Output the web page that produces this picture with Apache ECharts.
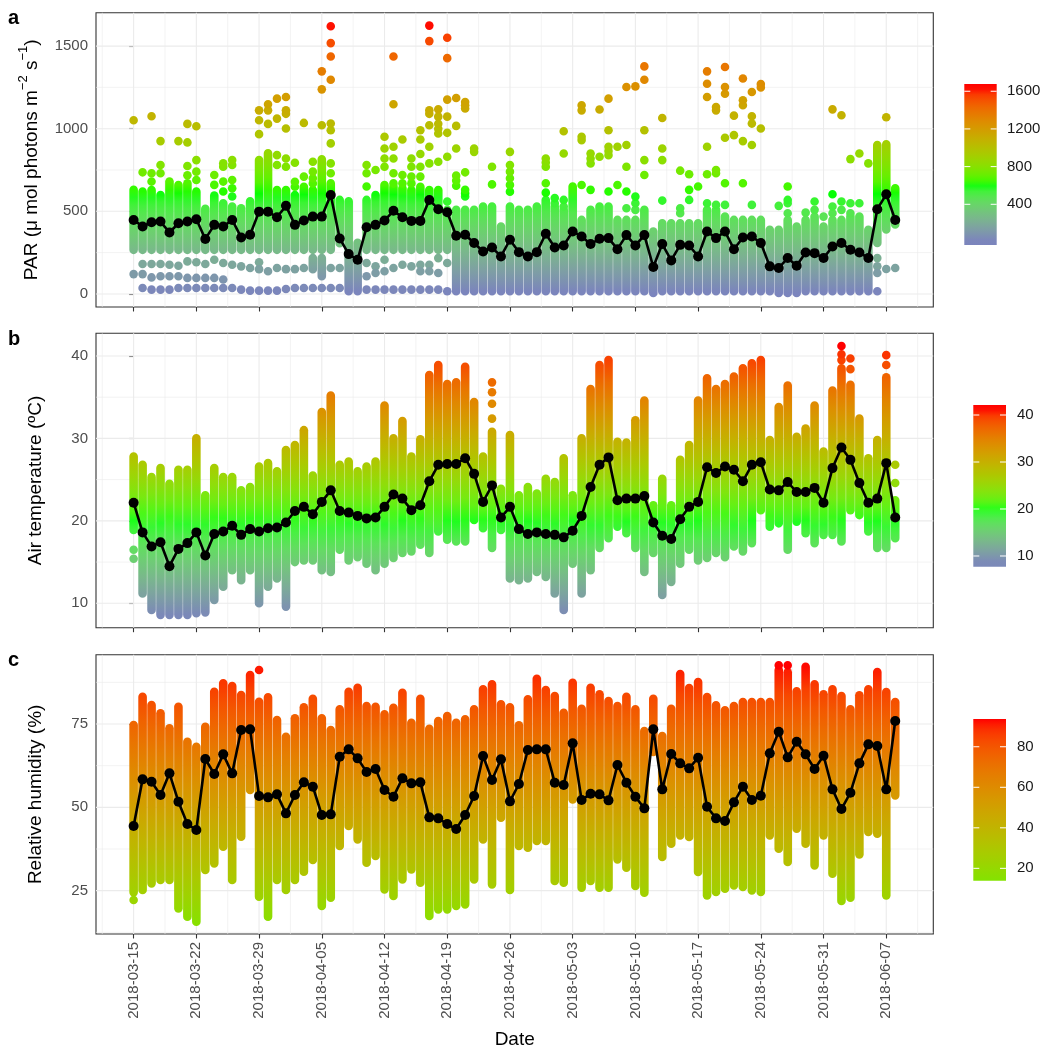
<!DOCTYPE html>
<html>
<head>
<meta charset="utf-8">
<title>PAR, air temperature and relative humidity</title>
<script src="https://cdn.jsdelivr.net/npm/echarts@6/dist/echarts.min.js"></script>
<style>
  html, body { margin: 0; padding: 0; background: #fff; }
  #chart { width: 1046px; height: 1050px; }
</style>
</head>
<body>
<div id="chart"></div>
<script>
// x = day index, 0 = 2018-03-15 ... 85 = 2018-06-08
const tickDays = [0, 7, 14, 21, 28, 35, 42, 49, 56, 63, 70, 77, 84];
const tickLabels = ['2018-03-15', '2018-03-22', '2018-03-29', '2018-04-05', '2018-04-12', '2018-04-19',
  '2018-04-26', '2018-05-03', '2018-05-10', '2018-05-17', '2018-05-24', '2018-05-31', '2018-06-07'];

const parTicks = [0, 500, 1000, 1500];
const tempTicks = [10, 20, 30, 40];
const rhTicks = [25, 50, 75];
const parLegend = [400, 800, 1200, 1600];
const tempLegend = [10, 20, 30, 40];
const rhLegend = [20, 40, 60, 80];

// daily means (black line)
const parMean = [448, 408, 434, 438, 372, 428, 438, 452, 332, 418,
  408, 448, 342, 358, 498, 498, 464, 533, 418, 444,
  468, 468, 599, 336, 241, 207, 404, 418, 444, 503,
  464, 442, 442, 569, 513, 494, 352, 358, 308, 257,
  281, 227, 328, 253, 227, 253, 364, 281, 293, 378,
  348, 302, 334, 338, 271, 356, 293, 356, 163, 302,
  203, 297, 293, 227, 378, 338, 378, 271, 342, 348,
  308, 167, 157, 217, 171, 251, 247, 217, 287, 308,
  267, 251, 217, 513, 603, 448];

const tempMean = [22.2, 18.6, 16.9, 17.4, 14.5, 16.6, 17.3, 18.6, 15.8, 18.4,
  18.7, 19.4, 18.3, 19.0, 18.7, 19.1, 19.2, 19.8, 21.2, 21.7,
  20.8, 22.3, 23.7, 21.2, 21.0, 20.6, 20.3, 20.4, 21.7, 23.2,
  22.7, 21.3, 21.9, 24.8, 26.8, 26.9, 26.9, 27.6, 25.7, 22.3,
  24.3, 20.4, 21.7, 19.0, 18.4, 18.6, 18.4, 18.3, 18.0, 18.8,
  20.6, 24.1, 26.8, 27.7, 22.5, 22.7, 22.7, 23.0, 19.8, 18.2,
  17.8, 20.2, 21.7, 22.3, 26.5, 25.8, 26.6, 26.2, 24.8, 26.8,
  27.1, 23.8, 23.7, 24.7, 23.5, 23.5, 24.0, 22.2, 26.4, 28.9,
  27.4, 24.6, 22.2, 22.7, 27.0, 20.4];

const rhMean = [44.4, 58.4, 57.7, 53.7, 60.2, 51.7, 45.0, 43.2, 64.5, 60.0,
  65.9, 60.2, 73.2, 73.4, 53.4, 53.0, 53.9, 48.2, 53.7, 57.5,
  56.2, 47.7, 47.9, 65.2, 67.4, 64.7, 60.6, 61.5, 55.2, 53.2,
  58.7, 57.2, 57.5, 47.0, 46.7, 45.0, 43.5, 47.7, 53.4, 65.4,
  58.2, 64.4, 51.8, 57.0, 67.2, 67.4, 67.4, 57.4, 56.7, 69.2,
  52.2, 54.1, 53.9, 52.1, 62.7, 57.4, 53.2, 49.7, 73.4, 55.4,
  66.0, 63.2, 61.7, 64.9, 50.2, 46.7, 45.9, 51.5, 56.2, 52.2,
  53.5, 66.2, 72.7, 65.0, 69.7, 65.9, 61.5, 65.5, 55.4, 49.5,
  54.4, 63.2, 68.9, 68.4, 55.4, 75.9];

// readings per day: [lo, hi] = a dense run of readings, a number = a single reading
const parCols = [
  [[267, 630], 1051, 120],
  [[267, 620], 736, 181, 120, 36],
  [[267, 629], 680, 730, 1075, 181, 100, 26],
  [[267, 599], 730, 780, 925, 181, 107, 26],
  [[267, 680], 177, 107, 26],
  [[267, 659], 925, 171, 107, 36],
  [[267, 669], 718, 774, 917, 1029, 197, 97, 36],
  [[267, 619], 690, 740, 810, 1015, 192, 97, 36],
  [[267, 515], 181, 97, 36],
  [[267, 595], 660, 720, 207, 97, 36],
  [[267, 549], 620, 680, 770, 790, 187, 87, 36],
  [[267, 529], 590, 640, 690, 780, 810, 177, 36],
  [[267, 519], 167, 26],
  [[267, 560], 157, 20],
  [[267, 810], 967, 1051, 1111, 192, 150, 20],
  [[267, 851], 1029, 1111, 1148, 137, 20],
  [[267, 629], 780, 840, 1061, 1182, 157, 20],
  [[267, 629], 770, 820, 1001, 1090, 1111, 1192, 150, 30],
  [[267, 599], 649, 679, 794, 150, 36],
  [[267, 649], 710, 1035, 157, 36],
  [[267, 629], 669, 700, 740, 800, [150, 217], 36],
  [[267, 815], 1021, 1238, 1347, [107, 217], 36],
  [[267, 669], 730, 790, 911, 991, 1031, 1296, 1437, 1518, 1620, 157, 36],
  [[307, 569], 157, 36],
  [[16, 560]],
  [[16, 310]],
  [[267, 569], 650, 730, 780, 187, 107, 26],
  [[267, 599], 750, 167, 127, 26],
  [[267, 659], 770, 820, 880, 951, 207, 137, 26],
  [[267, 649], 669, 730, 820, 891, 1148, 1437, 157, 26],
  [[267, 639], 669, 720, 935, 177, 26],
  [[267, 629], 669, 710, 770, 820, 167, 26],
  [[267, 649], 710, 770, 847, 935, 991, 177, 137, 26],
  [[267, 629], 790, 891, 1021, 1090, 1111, 1530, 1624, 177, 137, 26],
  [[267, 629], 800, 971, 1000, 1030, 1073, 1117, 217, 127, 26],
  [[267, 509], 559, 830, 975, 1073, 1176, 1427, 1550, 187, 16],
  [[16, 509], 655, 686, 716, 880, 1017, 1186],
  [[16, 509], 590, 610, 630, 736, 1122, 1142, 1162],
  [[16, 509], 860, 880],
  [[16, 529]],
  [[16, 529], 663, 770],
  [[16, 408]],
  [[16, 529], 619, 660, 700, 740, 780, 860],
  [[16, 509]],
  [[16, 509]],
  [[16, 529]],
  [[16, 569], 613, 670, 770, 795, 820],
  [[16, 529], 549, 580],
  [[16, 509], 529, 569, 850, 985],
  [[16, 650]],
  [[16, 448], 659, 931, 951, 1111, 1142],
  [[16, 509], 630, 790, 820, 850],
  [[16, 529], 830, 1116],
  [[16, 529], 620, 840, 865, 891, 991, 1182],
  [[16, 448], 659, 891],
  [[16, 448], 519, 620, 770, 901, 1252],
  [[16, 448], 509, 549, 589, 1256],
  [[16, 509], 720, 810, 991, 1296, 1377],
  [[6, 378]],
  [[16, 428], 565, 810, 880, 1065],
  [[16, 428]],
  [[16, 428], 489, 519, 746],
  [[16, 428], 569, 630, 724],
  [[16, 428], 650],
  [[16, 509], 549, 724, 891, 1192, 1272, 1347],
  [[16, 509], 539, 730, 750, 1111, 1131],
  [[16, 468], 539, 670, 945, 1212, 1252, 1373],
  [[16, 448], 961, 1079],
  [[16, 448], 670, 925, 1142, 1172, 1304],
  [[16, 448], 539, 901, 1031, 1075, 1222],
  [[16, 448], 1001, 1250, 1270],
  [[16, 388]],
  [[6, 388], 533],
  [[6, 448], 488, 549, 569, 650],
  [[6, 408]],
  [[16, 448], 492],
  [[16, 468], 509, 559],
  [[16, 408], 468],
  [[16, 448], 488, 529, 603, 1117],
  [[16, 448], 509, 559, 1081],
  [[16, 468], 488, 549, 816],
  [[16, 468], 549, 850],
  [[16, 388], 790],
  [[308, 901], 217, 167, 127, 16],
  [[390, 905], 1069, 151],
  [[420, 640], 157]
];

const tempCols = [
  [[18.9, 27.8], 16.5, 15.4], [[11.2, 26.8]], [[9.2, 25.3]], [[8.6, 26.4]], [[8.6, 24.5]],
  [[8.6, 26.2]], [[8.6, 26.2]], [[8.8, 30.0]], [[8.9, 23.1]], [[10.4, 26.4]],
  [[12.0, 25.3]], [[14.0, 25.3]], [[12.8, 23.7]], [[14.0, 24.1]], [[10.0, 26.6]],
  [[12.0, 27.0]], [[13.0, 26.0]], [[9.6, 28.6]], [[15.0, 29.2]], [[15.2, 31.0]],
  [[15.2, 25.5]], [[14.0, 33.2]], [[13.8, 35.2]], [[16.5, 26.8]], [[15.2, 27.2]],
  [[15.6, 26.0]], [[14.8, 26.6]], [[14.0, 27.2]], [[14.8, 34.0]], [[15.5, 30.0]],
  [[16.1, 32.1]], [[16.3, 27.8]], [[17.1, 29.9]], [[16.1, 37.7]], [[18.7, 38.9]],
  [[17.7, 36.6]], [[17.5, 36.8]], [[17.5, 38.7]], [[20.1, 34.4]], [[19.1, 27.8]],
  [[16.7, 30.8], 32.4, 34.2, 35.6, 36.8], [[18.9, 23.9]], [[13.0, 30.4]], [[12.8, 23.1]], [[13.0, 24.1]],
  [[13.8, 23.3]], [[13.2, 25.1]], [[11.2, 24.7]], [[9.2, 27.6]], [[14.8, 23.1]],
  [[11.2, 30.0]], [[14.0, 36.0]], [[16.7, 38.9]], [[17.9, 39.5]], [[19.3, 29.6]],
  [[18.5, 29.5]], [[16.7, 32.2]], [[13.8, 34.6]], [[16.1, 21.9]], [[11.0, 25.1]],
  [[12.6, 21.9]], [[14.8, 27.4]], [[16.5, 29.2]], [[15.2, 34.6]], [[15.5, 37.3]],
  [[16.1, 36.0]], [[15.6, 36.6]], [[16.9, 37.5]], [[16.3, 38.5]], [[17.3, 39.1]],
  [[21.3, 39.5]], [[19.3, 29.8]], [[19.7, 33.8]], [[16.5, 36.4]], [[19.9, 30.2]],
  [[18.5, 31.2]], [[17.3, 34.0]], [[18.3, 28.4]], [[18.3, 35.8]], [[17.5, 38.5], 39.5, 40.2, 41.2],
  [[21.3, 36.5], 38.4, 39.7], [[20.7, 32.4]], [[18.7, 27.6]], [[16.7, 29.8]], [[16.7, 37.4], 38.9, 40.1],
  [[17.9, 22.5], 24.6, 26.8]
];

const rhCols = [
  [[24.5, 74.7], 22.2], [[25.2, 83.2]], [[27.2, 80.7]], [[28.2, 78.2]], [[28.2, 73.7]],
  [[19.7, 80.2]], [[17.2, 69.7]], [[15.7, 68.2]], [[31.2, 74.2]], [[33.2, 84.7]],
  [[38.2, 87.2]], [[28.2, 86.4]], [[41.2, 83.7]], [[55.2, 89.7]], [[23.2, 81.7], 91.2],
  [[17.2, 83.0]], [[28.2, 76.2]], [[25.2, 71.2]], [[28.2, 76.7]], [[30.7, 80.0]],
  [[34.2, 82.6]], [[20.4, 76.7]], [[22.9, 73.2]], [[38.4, 79.4]], [[44.4, 84.7]],
  [[40.4, 85.9]], [[33.4, 80.4]], [[35.4, 80.2]], [[25.4, 77.9]], [[23.4, 79.9]],
  [[28.4, 84.4]], [[31.4, 75.4]], [[27.4, 82.6]], [[17.4, 73.6]], [[19.4, 75.9]],
  [[19.4, 77.4]], [[20.4, 75.4]], [[20.9, 76.4]], [[28.4, 79.4]], [[40.4, 85.4]],
  [[26.9, 86.9]], [[46.9, 80.9]], [[25.2, 80.0]], [[38.4, 74.6]], [[37.9, 82.4]],
  [[39.9, 88.6]], [[39.9, 85.2]], [[27.9, 83.4]], [[27.4, 78.4]], [[52.4, 87.4]],
  [[25.9, 79.6]], [[27.9, 85.9]], [[25.9, 83.9]], [[25.9, 81.9]], [[34.4, 80.4]],
  [[31.9, 83.2]], [[26.4, 79.4]], [[24.4, 72.9]], [[66.6, 82.6]], [[35.1, 71.4]],
  [[39.1, 79.6]], [[41.6, 90.0]], [[41.1, 85.8]], [[30.6, 87.6]], [[23.6, 83.1]],
  [[24.6, 80.6]], [[25.6, 79.1]], [[26.6, 80.4]], [[26.1, 81.6]], [[25.1, 81.6]],
  [[24.6, 81.6]], [[41.6, 81.6]], [[37.6, 91.2], 92.6], [[33.6, 90.5], 92.6], [[43.6, 84.8]],
  [[39.1, 92.2]], [[32.6, 86.9]], [[41.6, 83.9]], [[30.1, 85.4]], [[21.9, 83.4]],
  [[22.9, 79.4]], [[35.9, 83.6]], [[42.6, 85.4]], [[42.1, 90.6]], [[23.6, 84.6]],
  [[53.6, 81.6]]
];

const FONT = '"Liberation Sans", Arial, Helvetica, sans-serif';
const DOT_R = 4.3;

// colour ramps interpolated in Lab like ggplot
function toLab(hex) {
  const n = parseInt(hex.slice(1), 16);
  const rgb = [(n >> 16) & 255, (n >> 8) & 255, n & 255].map(c => {
    c /= 255;
    return c <= 0.04045 ? c / 12.92 : Math.pow((c + 0.055) / 1.055, 2.4);
  });
  const X = (rgb[0] * 0.4124 + rgb[1] * 0.3576 + rgb[2] * 0.1805) / 0.95047;
  const Y = rgb[0] * 0.2126 + rgb[1] * 0.7152 + rgb[2] * 0.0722;
  const Z = (rgb[0] * 0.0193 + rgb[1] * 0.1192 + rgb[2] * 0.9505) / 1.08883;
  const f = t => t > 0.008856 ? Math.cbrt(t) : 7.787 * t + 16 / 116;
  return [116 * f(Y) - 16, 500 * (f(X) - f(Y)), 200 * (f(Y) - f(Z))];
}
function fromLab(L, a, b) {
  const fy = (L + 16) / 116, fx = fy + a / 500, fz = fy - b / 200;
  const inv = t => t * t * t > 0.008856 ? t * t * t : (t - 16 / 116) / 7.787;
  const X = inv(fx) * 0.95047, Y = inv(fy), Z = inv(fz) * 1.08883;
  const lin = [
    X * 3.2406 - Y * 1.5372 - Z * 0.4986,
    -X * 0.9689 + Y * 1.8758 + Z * 0.0415,
    X * 0.0557 - Y * 0.2040 + Z * 1.0570
  ];
  const enc = c => {
    c = c <= 0.0031308 ? 12.92 * c : 1.055 * Math.pow(c, 1 / 2.4) - 0.055;
    return Math.round(Math.min(1, Math.max(0, c)) * 255);
  };
  return 'rgb(' + lin.map(enc).join(',') + ')';
}
function makeScale(stops) {
  const s = stops.map(p => [p[0], toLab(p[1])]);
  return function (v) {
    if (v <= s[0][0]) return fromLab(...s[0][1]);
    if (v >= s[s.length - 1][0]) return fromLab(...s[s.length - 1][1]);
    for (let i = 1; i < s.length; i++) {
      if (v <= s[i][0]) {
        const t = (v - s[i - 1][0]) / (s[i][0] - s[i - 1][0]);
        const A = s[i - 1][1], B = s[i][1];
        return fromLab(A[0] + (B[0] - A[0]) * t, A[1] + (B[1] - A[1]) * t, A[2] + (B[2] - A[2]) * t);
      }
    }
  };
}

const panels = [
  {
    cols: parCols, mean: parMean, ticks: parTicks, legend: parLegend,
    top: 12.7, height: 294.3, yMin: -79, yMax: 1702,
    scale: makeScale([[10, '#7b84bd'], [605, '#00ff00'], [1629, '#ff0000']]),
    bar: { x: 964.3, w: 32.4, y0: 84, y1: 245, v0: 1677, v1: -32, tx: 1007 },
    letter: 'a',
    title: '{t|PAR (μ mol photons m}{s|−2}{t| s}{s|−1}{t|)}', titleX: 29
  },
  {
    cols: tempCols, mean: tempMean, ticks: tempTicks, legend: tempLegend,
    top: 333.3, height: 294.4, yMin: 7.04, yMax: 42.75,
    scale: makeScale([[8.6, '#7b88b8'], [20, '#1aff1a'], [41.2, '#ff0000']]),
    bar: { x: 973.3, w: 32.7, y0: 405, y1: 566.7, v0: 42.13, v1: 7.72, tx: 1017 },
    letter: 'b',
    title: '{t|Air temperature (ºC)}', titleX: 33
  },
  {
    cols: rhCols, mean: rhMean, ticks: rhTicks, legend: rhLegend,
    top: 654.7, height: 279.3, yMin: 12.0, yMax: 95.8,
    scale: makeScale([[-3, '#00ff00'], [92.6, '#ff0000']]),
    bar: { x: 973.3, w: 32.7, y0: 719, y1: 880.7, v0: 93.7, v1: 13.9, tx: 1017 },
    letter: 'c',
    title: '{t|Relative humidity (%)}', titleX: 33
  }
];

const X_MIN = -4.2, X_MAX = 89.25;

function gridRender(params, api) {
  const cs = params.coordSys;
  const dir = api.value(0), v = api.value(1), major = api.value(2);
  let shape;
  if (dir === 0) {
    const p = api.coord([v, 0]);
    shape = { x1: p[0], y1: cs.y, x2: p[0], y2: cs.y + cs.height };
  } else {
    const p = api.coord([0, v]);
    shape = { x1: cs.x, y1: p[1], x2: cs.x + cs.width, y2: p[1] };
  }
  return { type: 'line', shape: shape, style: { stroke: '#ebebeb', lineWidth: major ? 1.1 : 0.6 } };
}

function makeColumnRender(scale) {
  return function (params, api) {
    const x = api.value(0), lo = api.value(1), hi = api.value(2);
    const pHi = api.coord([x, hi]);
    const pLo = api.coord([x, lo]);
    const r = DOT_R;
    const span = pLo[1] - pHi[1];
    const h = span + 2 * r;
    const n = span > 4 ? 8 : 1;
    const stops = [{ offset: 0, color: scale(hi) }];
    for (let i = 0; i <= n; i++) {
      const t = i / n;
      stops.push({ offset: (r + span * t) / h, color: scale(hi - (hi - lo) * t) });
    }
    stops.push({ offset: 1, color: scale(lo) });
    return {
      type: 'rect',
      shape: { x: pHi[0] - r, y: pHi[1] - r, width: 2 * r, height: h, r: r },
      style: { fill: { type: 'linear', x: 0, y: 0, x2: 0, y2: 1, colorStops: stops } }
    };
  };
}

const grids = [], xAxes = [], yAxes = [], series = [], graphics = [];

panels.forEach((p, i) => {
  grids.push({
    left: 96, width: 837.3, top: p.top, height: p.height,
    show: true, borderColor: '#333333', borderWidth: 1.1, backgroundColor: '#fff'
  });
  xAxes.push({
    type: 'value', gridIndex: i, min: X_MIN, max: X_MAX,
    splitLine: { show: false },
    axisLine: { show: false, onZero: false },
    axisTick: { show: true, length: 4.5, customValues: tickDays, lineStyle: { color: '#333', width: 1.1 } },
    axisLabel: {
      show: i === 2, customValues: tickDays, rotate: 90, margin: 8,
      color: '#4d4d4d', fontSize: 15, fontFamily: FONT,
      formatter: v => tickLabels[tickDays.indexOf(v)]
    }
  });
  yAxes.push({
    type: 'value', gridIndex: i, min: p.yMin, max: p.yMax,
    splitLine: { show: false },
    axisLine: { show: false },
    axisTick: { show: true, length: 4.5, customValues: p.ticks, lineStyle: { color: '#333', width: 1.1 } },
    axisLabel: {
      customValues: p.ticks, margin: 8, color: '#4d4d4d', fontSize: 15, fontFamily: FONT,
      formatter: v => String(v)
    }
  });

  // grid lines: majors at ticks, minors half way between
  const lines = [];
  tickDays.forEach(d => lines.push([0, d, 1]));
  tickDays.forEach(d => lines.push([0, d - 3.5, 0]));
  lines.push([0, tickDays[tickDays.length - 1] + 3.5, 0]);
  const step = p.ticks[1] - p.ticks[0];
  p.ticks.forEach(v => lines.push([1, v, 1]));
  for (let v = p.ticks[0] - step / 2; v < p.yMax; v += step) {
    if (v > p.yMin) lines.push([1, v, 0]);
  }
  series.push({
    type: 'custom', xAxisIndex: i, yAxisIndex: i, z: 1, silent: true,
    renderItem: gridRender, data: lines, encode: { x: 1, y: 1 }
  });

  const cells = [];
  p.cols.forEach((items, d) => {
    items.forEach(it => {
      if (Array.isArray(it)) cells.push([d, it[0], it[1]]);
      else cells.push([d, it, it]);
    });
  });
  series.push({
    type: 'custom', xAxisIndex: i, yAxisIndex: i, z: 2, silent: true,
    renderItem: makeColumnRender(p.scale), data: cells, encode: { x: 0, y: [1, 2] }
  });

  series.push({
    type: 'line', xAxisIndex: i, yAxisIndex: i, z: 5, silent: true,
    data: p.mean.map((v, d) => [d, v]),
    symbol: 'circle', symbolSize: 10, showSymbol: true, showAllSymbol: true,
    itemStyle: { color: '#000' },
    lineStyle: { color: '#000', width: 2.6 }
  });

  // panel letter and axis title
  graphics.push({
    type: 'text', left: 8, top: p.top - 4,
    style: { text: p.letter, fontSize: 20, fontWeight: 'bold', fontFamily: FONT, fill: '#000' }
  });
  graphics.push({
    type: 'text', x: p.titleX, y: p.top + p.height / 2, rotation: Math.PI / 2,
    style: {
      text: p.title, align: 'center', verticalAlign: 'middle',
      rich: {
        t: { fontSize: 19, fontFamily: FONT, fill: '#000', lineHeight: 24, verticalAlign: 'bottom' },
        s: { fontSize: 13, fontFamily: FONT, fill: '#000', lineHeight: 13, verticalAlign: 'top' }
      }
    }
  });

  // colour bar
  const b = p.bar;
  const yOf = v => b.y0 + (b.v0 - v) / (b.v0 - b.v1) * (b.y1 - b.y0);
  const stops = [];
  for (let k = 0; k <= 30; k++) {
    stops.push({ offset: k / 30, color: p.scale(b.v0 - (b.v0 - b.v1) * k / 30) });
  }
  graphics.push({
    type: 'rect', shape: { x: b.x, y: b.y0, width: b.w, height: b.y1 - b.y0 },
    style: { fill: new echarts.graphic.LinearGradient(0, 0, 0, 1, stops) }
  });
  p.legend.forEach(v => {
    const y = yOf(v);
    graphics.push({ type: 'line', shape: { x1: b.x, y1: y, x2: b.x + 6, y2: y }, style: { stroke: '#fff', lineWidth: 1 } });
    graphics.push({ type: 'line', shape: { x1: b.x + b.w - 6, y1: y, x2: b.x + b.w, y2: y }, style: { stroke: '#fff', lineWidth: 1 } });
    graphics.push({
      type: 'text', x: b.tx, y: y,
      style: { text: String(v), fontSize: 15, fontFamily: FONT, fill: '#1a1a1a', align: 'left', verticalAlign: 'middle' }
    });
  });
});

graphics.push({
  type: 'text', x: 514.7, y: 1040,
  style: { text: 'Date', fontSize: 19, fontFamily: FONT, fill: '#000', align: 'center', verticalAlign: 'middle' }
});

const chart = echarts.init(document.getElementById('chart'));
chart.setOption({
  animation: false,
  backgroundColor: '#fff',
  grid: grids,
  xAxis: xAxes,
  yAxis: yAxes,
  series: series,
  graphic: { elements: graphics }
});
</script>
</body>
</html>
